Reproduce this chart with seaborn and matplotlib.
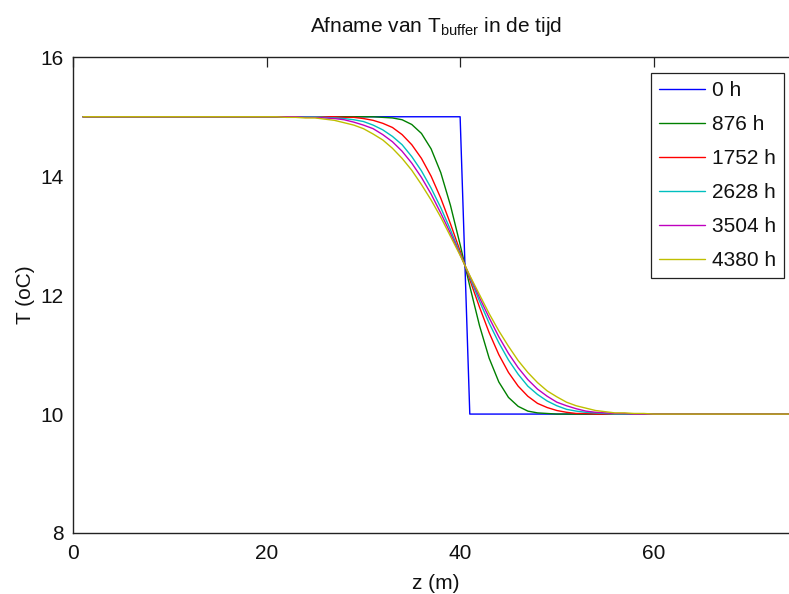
import matplotlib
matplotlib.use("Agg")
import matplotlib.pyplot as plt
import pandas as pd
import seaborn as sns

# Depth positions (m) at which the buffer temperature is stored
z = [1] + list(range(20, 61)) + [75]

# Temperature profiles (oC) at successive moments in time
t_0 = [15.0] * 22 + [10.0] * 21
t_876 = ([15.0] * 13 +
         [14.99, 14.98, 14.95, 14.87, 14.72, 14.46, 14.06, 13.51, 12.85,
          12.15, 11.49, 10.94, 10.54, 10.28, 10.13, 10.05, 10.02, 10.01] +
         [10.0] * 12)
t_1752 = ([15.0] * 9 +
          [14.99, 14.99, 14.97, 14.94, 14.89, 14.82, 14.70, 14.53, 14.30,
           14.00, 13.63, 13.20, 12.74, 12.26, 11.80, 11.37, 11.00, 10.70,
           10.47, 10.30, 10.18, 10.11, 10.06, 10.03, 10.01, 10.01] +
          [10.0] * 8)
t_2628 = ([15.0] * 7 +
          [14.99, 14.98, 14.97, 14.95, 14.92, 14.86, 14.78, 14.67, 14.53,
           14.33, 14.09, 13.80, 13.47, 13.10, 12.70, 12.30, 11.90, 11.53,
           11.20, 10.91, 10.67, 10.47, 10.33, 10.22, 10.14, 10.08, 10.05,
           10.03, 10.02, 10.01] +
          [10.0] * 6)
t_3504 = ([15.0] * 5 +
          [14.99, 14.99, 14.98, 14.97, 14.95, 14.91, 14.86, 14.80, 14.70,
           14.58, 14.42, 14.22, 13.98, 13.70, 13.38, 13.04, 12.68, 12.32,
           11.96, 11.62, 11.30, 11.02, 10.78, 10.58, 10.42, 10.30, 10.20,
           10.14, 10.09, 10.05, 10.03, 10.02, 10.01, 10.01] +
          [10.0] * 4)
t_4380 = ([15.0] * 3 +
          [14.99, 14.99, 14.98, 14.98, 14.96, 14.94, 14.90, 14.86, 14.80,
           14.71, 14.61, 14.47, 14.30, 14.10, 13.86, 13.60, 13.31, 12.99,
           12.67, 12.33, 12.01, 11.69, 11.40, 11.14, 10.90, 10.70, 10.53,
           10.39, 10.29, 10.20, 10.14, 10.10, 10.06, 10.04, 10.02, 10.02,
           10.01, 10.01] +
          [10.0] * 2)

labels = ["0 h", "876 h", "1752 h", "2628 h", "3504 h", "4380 h"]
profiles = [t_0, t_876, t_1752, t_2628, t_3504, t_4380]
colors = ["#0000FF", "#008000", "#FF0000", "#00BFBF", "#BF00BF", "#BFBF00"]

x_ticks = [0, 20, 40, 60]
y_ticks = [8, 10, 12, 14, 16]

frames = [pd.DataFrame({"z": z, "T": p, "tijd": lab})
          for lab, p in zip(labels, profiles)]
df = pd.concat(frames, ignore_index=True)

sns.set_theme(style="white")
plt.rcParams["font.family"] = ["Liberation Sans Narrow", "Liberation Sans",
                               "DejaVu Sans"]
plt.rcParams["mathtext.default"] = "regular"

W, H = 789, 594
fig = plt.figure(figsize=(W / 100, H / 100), dpi=100)
fig.patch.set_facecolor("white")

left, right, top, bottom = 73.3, 798.6, 57.3, 533.0
ax = fig.add_axes([left / W, 1 - bottom / H, (right - left) / W,
                   (bottom - top) / H])
ax.set_facecolor("white")

sns.lineplot(data=df, x="z", y="T", hue="tijd", hue_order=labels,
             palette=dict(zip(labels, colors)), estimator=None, sort=False,
             linewidth=1.0, ax=ax)

ax.set_xlim(0, 75)
ax.set_ylim(8, 16)
ax.set_xticks(x_ticks)
ax.set_yticks(y_ticks)
ax.tick_params(direction="in", length=7.2, width=0.9, color="#222222",
               top=True, right=True, labelsize=15, labelcolor="#111111")
ax.tick_params(axis="x", pad=8)
ax.tick_params(axis="y", pad=7)
for sp in ax.spines.values():
    sp.set_visible(True)
    sp.set_color("#222222")
    sp.set_linewidth(1.0)

ax.set_xlabel("z (m)", fontsize=15, color="#111111")
ax.set_ylabel("T (oC)", fontsize=15, color="#111111")
ax.xaxis.set_label_coords(0.5, -0.086)
ax.yaxis.set_label_coords(-0.053, 0.5)
ax.set_title(r"Afname van T$_{buffer}$ in de tijd", fontsize=15,
             color="#111111", pad=18)

handles, labs = ax.get_legend_handles_labels()
leg = ax.legend(handles, labs, loc="upper right",
                bbox_to_anchor=(784 / W, 1 - 73 / H),
                bbox_transform=fig.transFigure, borderaxespad=0,
                frameon=True, fancybox=False, framealpha=1,
                edgecolor="#222222", fontsize=15, handlelength=2.2,
                handletextpad=0.35, labelspacing=0.72, borderpad=0.38)
leg.get_frame().set_linewidth(0.9)
for txt in leg.get_texts():
    txt.set_color("#111111")

fig.savefig("out.png", dpi=100, facecolor="white")
